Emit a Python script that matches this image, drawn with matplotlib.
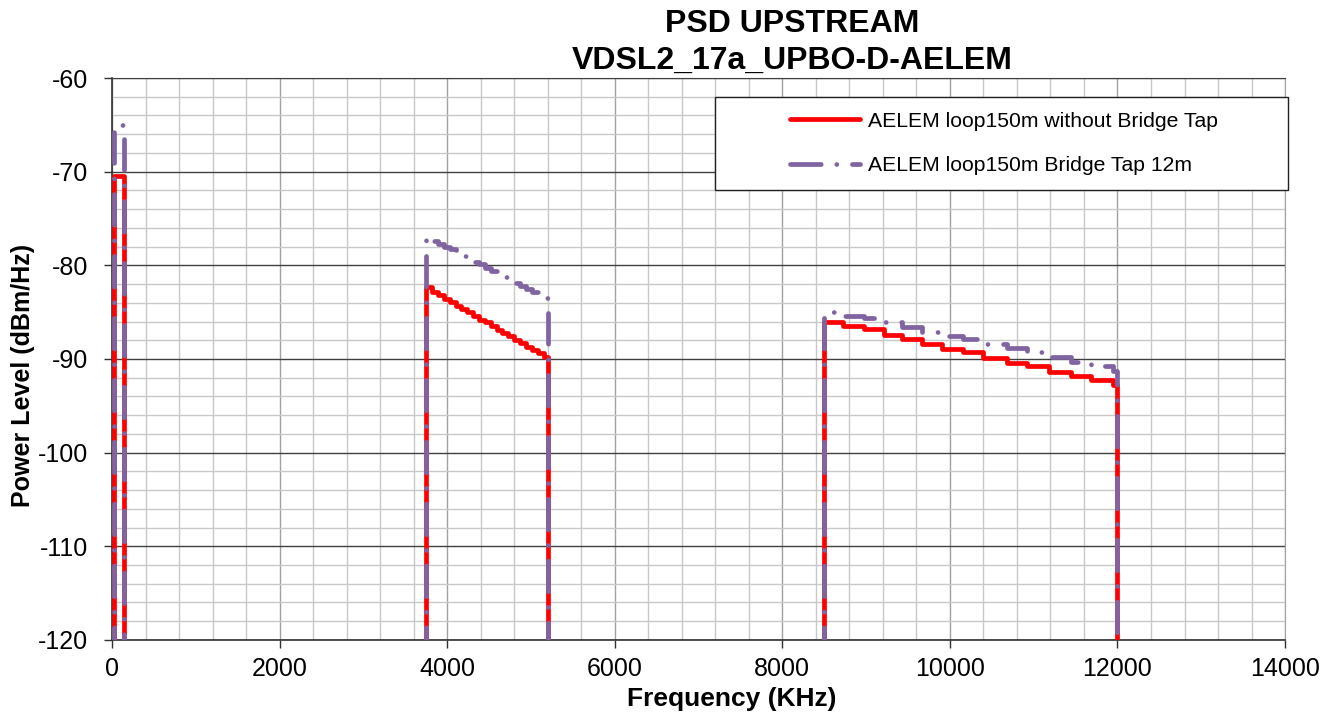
import numpy as np
import matplotlib.pyplot as plt
from matplotlib.patches import Rectangle
from matplotlib.ticker import MultipleLocator

plt.rcParams['font.family'] = ['Liberation Sans', 'DejaVu Sans']
plt.rcParams['axes.unicode_minus'] = False

# PSD levels (kHz, dBm/Hz); out of band sits below the axis
floor_db = -140
x_max = 14000

# US0 band
band1_f = [25]
band1_end = 138
red_band1 = [-70.5]
purple_band1 = [-65.0]

# US1 band
band2_f = [3750, 3820, 3890, 3960, 4030, 4100, 4170, 4240, 4310, 4380, 4450,
           4520, 4590, 4660, 4730, 4800, 4870, 4940, 5010, 5080, 5150]
band2_end = 5200
red_band2 = [-82.3, -82.8, -83.2, -83.6, -83.9, -84.3, -84.7, -85.0, -85.4, -85.8, -86.1,
             -86.5, -86.9, -87.2, -87.6, -88.0, -88.3, -88.7, -89.0, -89.4, -89.8]
purple_band2 = [-77.0, -77.4, -77.7, -78.0, -78.3, -78.6, -79.0, -79.3, -79.6, -79.9, -80.3,
                -80.6, -80.9, -81.2, -81.6, -81.9, -82.2, -82.5, -82.9, -83.2, -83.5]

# US2 band
band3_f = [8500, 8730, 8970, 9210, 9430, 9670, 9910, 10160, 10400, 10680, 10920,
           11180, 11440, 11680, 11950]
band3_end = 12000
red_band3 = [-86.0, -86.5, -86.8, -87.4, -87.9, -88.4, -88.9, -89.3, -89.9, -90.4, -90.8,
             -91.4, -91.8, -92.2, -92.8]
purple_band3 = [-85.0, -85.4, -85.6, -86.1, -86.6, -87.1, -87.5, -87.9, -88.4, -88.8, -89.3,
                -89.8, -90.3, -90.7, -91.3]

bands = [(band1_f, band1_end), (band2_f, band2_end), (band3_f, band3_end)]
label_red = 'AELEM loop150m without Bridge Tap'
label_purple = 'AELEM loop150m Bridge Tap 12m'


def build_series(levels):
    """Join the bands into one step trace that drops to the floor between them."""
    f = [0]
    y = [floor_db]
    for (starts, end), lv in zip(bands, levels):
        f += starts
        y += lv
        f.append(end)
        y.append(floor_db)
    f.append(x_max)
    y.append(floor_db)
    return np.array(f), np.array(y)


red_f, red_y = build_series([red_band1, red_band2, red_band3])
pur_f, pur_y = build_series([purple_band1, purple_band2, purple_band3])

fig = plt.figure(figsize=(13.4, 7.19), dpi=100)
ax = fig.add_axes([0.0836, 0.110, 0.8754, 0.7815])

ax.plot(red_f, red_y, drawstyle='steps-post', color='#ff0000', lw=3.4,
        solid_joinstyle='round', solid_capstyle='round', label=label_red, zorder=3)
ax.plot(pur_f, pur_y, drawstyle='steps-post', color='#8064a2', lw=3.4,
        linestyle=(0, (6.5, 3.3, 0.01, 3.3)), dash_capstyle='round',
        dash_joinstyle='round', label=label_purple, zorder=4)

ax.set_xlim(0, x_max)
ax.set_ylim(-120, -60)
ax.xaxis.set_major_locator(MultipleLocator(2000))
ax.xaxis.set_minor_locator(MultipleLocator(400))
ax.yaxis.set_major_locator(MultipleLocator(10))
ax.yaxis.set_minor_locator(MultipleLocator(2))

ax.grid(which='minor', axis='both', color='#c8c8c8', lw=1.0)
ax.grid(which='major', axis='x', color='#a0a0a0', lw=1.0)
ax.grid(which='major', axis='y', color='#404040', lw=1.0)
ax.set_axisbelow(True)

ax.tick_params(which='major', direction='out', length=6, width=1.0,
               labelsize=18, color='#303030')
ax.tick_params(axis='y', pad=11)
ax.tick_params(axis='x', pad=6)
ax.tick_params(which='minor', length=0)
ax.spines['top'].set_color('#404040')
ax.spines['right'].set_color('#a0a0a0')
for side in ['left', 'bottom']:
    ax.spines[side].set_color('#303030')
    ax.spines[side].set_linewidth(1.2)

ax.set_xlabel('Frequency (KHz)', fontsize=19, fontweight='bold')
ax.set_ylabel('Power Level (dBm/Hz)', fontsize=18, fontweight='bold')
ax.xaxis.set_label_coords(0.528, -0.083)
ax.yaxis.set_label_coords(-0.066, 0.4715)

fig.text(0.591, 0.966, 'PSD UPSTREAM', ha='center', va='center',
         fontsize=23, fontweight='bold')
fig.text(0.591, 0.916, 'VDSL2_17a_UPBO-D-AELEM', ha='center', va='center',
         fontsize=23, fontweight='bold')

# legend box as in the spreadsheet chart
ax.add_patch(Rectangle((0.514, 0.8015), 0.4885, 0.1645, transform=ax.transAxes,
                       facecolor='white', edgecolor='#202020', lw=1.0, zorder=5,
                       clip_on=False))
leg = ax.legend(loc='upper left', bbox_to_anchor=(0.578, 0.94), frameon=False,
                fontsize=15.2, handlelength=3.3, handletextpad=0.4,
                labelspacing=1.2, borderaxespad=0, borderpad=0)
leg.set_zorder(6)

plt.savefig('out.png', dpi=100)
plt.close()
